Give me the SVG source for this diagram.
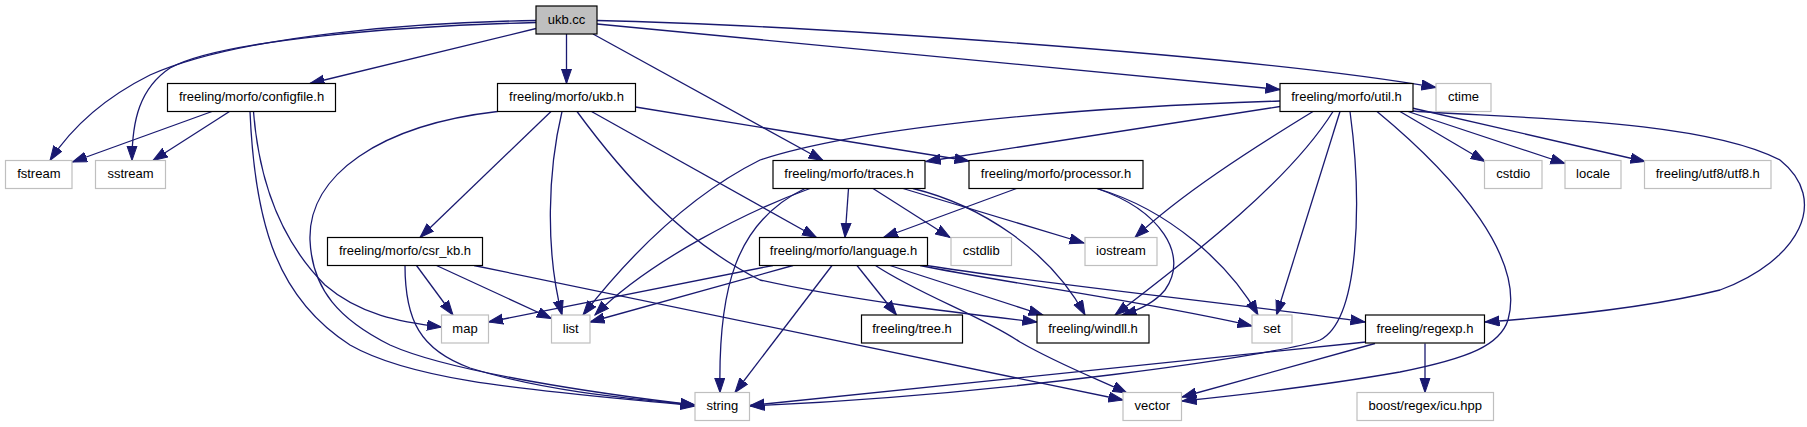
<svg xmlns="http://www.w3.org/2000/svg" width="1807" height="427" viewBox="0 0 1807 427">
<style>
.n rect{fill:#fff;stroke:#000;stroke-width:1.2}
.x rect{fill:#fff;stroke:#bfbfbf;stroke-width:1.2}
.r rect{fill:#bfbfbf;stroke:#000;stroke-width:1.2}
text{font-family:"Liberation Sans",Arial,Helvetica,sans-serif;font-size:13px;text-anchor:middle;fill:#000}
#edges path{fill:none;stroke:#191970;stroke-width:1.3;marker-end:url(#ah)}
</style>
<defs>
<marker id="ah" markerWidth="16" markerHeight="12" refX="14.5" refY="5.5" orient="auto" markerUnits="userSpaceOnUse">
<path d="M0,0.5 L14.5,5.5 L0,10.5 z" fill="#191970" stroke="#191970" stroke-width="1"/>
</marker>
</defs>
<rect width="1807" height="427" fill="#fff"/>
<g id="edges">
<path d="M536,20.5 C420,22 240,35 150,75 C100,100 70,130 50,160.5"/>
<path d="M536,22.5 C400,26 220,40 170,68 C140,88 132,120 132,160.5"/>
<path d="M536,28.5 L310,83.5"/>
<path d="M566.5,34 L566.5,83.5"/>
<path d="M593,34 L823,160.5"/>
<path d="M597,24 L1280,89.5"/>
<path d="M597,20.5 C800,25 1250,55 1436,87.5"/>
<path d="M212,111.5 L72.5,162"/>
<path d="M229.5,111.5 L153,160.5"/>
<path d="M253.5,111.5 C258,170 275,235 325,285 C360,315 400,322 441.5,327"/>
<path d="M250,111.5 C255,230 280,300 350,345 C420,385 560,392 695,406"/>
<path d="M497.5,111.5 C380,125 308,175 310,240 C312,290 340,320 390,345 C450,372 600,394 695,405"/>
<path d="M551,111.5 L420,237.5"/>
<path d="M562,111.5 C548,170 545,250 562,315"/>
<path d="M577,111.5 C620,170 680,240 760,280 C850,300 950,312 1037,322"/>
<path d="M591.5,111.5 L816.5,237.5"/>
<path d="M635.5,107 L969,161"/>
<path d="M810,188.5 C750,210 650,260 595,315"/>
<path d="M805,188.5 C735,222 718,290 720,392.5"/>
<path d="M848.5,188.5 L845,237.5"/>
<path d="M873,188.5 L950,237.5"/>
<path d="M903,188.5 L1084,243"/>
<path d="M913,188.5 C980,205 1050,250 1085,315"/>
<path d="M1016.5,188.5 L883.5,237.5"/>
<path d="M1097,188.5 C1160,210 1190,255 1165,290 C1155,302 1140,310 1122,315"/>
<path d="M1097,188.5 C1170,210 1230,265 1258,315"/>
<path d="M416.5,265.5 L453,315"/>
<path d="M436.5,265.5 L551.5,318.5"/>
<path d="M405,265.5 C405,320 420,350 470,368 C540,390 620,398 695,405"/>
<path d="M474,265.5 L1123,400"/>
<path d="M773,265.5 L488.5,322"/>
<path d="M793,265.5 L590,322"/>
<path d="M832,265.5 L735,392.5"/>
<path d="M857,265.5 L896.5,315"/>
<path d="M890,265.5 L1043,315"/>
<path d="M875.5,265.5 C920,295 980,315 1020,342 C1060,365 1100,380 1127,393"/>
<path d="M920,265.5 C1000,282 1150,302 1252,326"/>
<path d="M926.5,265.5 C1050,285 1250,305 1365,322"/>
<path d="M1280,101 C1050,108 850,130 760,160 C690,195 630,255 583,315"/>
<path d="M1280,106.5 L926,161.5"/>
<path d="M1313,111.5 C1250,150 1180,195 1135,237.5"/>
<path d="M1333,111.5 C1290,180 1200,250 1115,315"/>
<path d="M1340,111.5 L1276.5,315"/>
<path d="M1350,111.5 C1362,200 1360,320 1320,340 C1280,355 1000,395 750,406"/>
<path d="M1377,111.5 C1460,180 1525,260 1508,320 C1500,345 1470,358 1400,372 C1320,386 1240,395 1182,401"/>
<path d="M1400,111.5 L1485,161.5"/>
<path d="M1408,111.5 L1565,163.5"/>
<path d="M1412,108 L1645,161.5"/>
<path d="M1413,111 C1500,118 1700,118 1780,160 C1830,200 1800,260 1720,290 C1640,310 1540,318 1485,322"/>
<path d="M1366,342 L750,405.5"/>
<path d="M1375,343.5 L1182,397"/>
<path d="M1425,343.5 L1425,392.5"/>
</g>
<g id="node-ukb_cc" class="r"><rect x="536" y="6" width="61" height="28"/><text x="566.5" y="23.8">ukb.cc</text></g>
<g id="node-configfile" class="n"><rect x="167.5" y="83.5" width="168" height="28"/><text x="251.5" y="101.3">freeling/morfo/configfile.h</text></g>
<g id="node-ukb_h" class="n"><rect x="497.5" y="83.5" width="138" height="28"/><text x="566.5" y="101.3">freeling/morfo/ukb.h</text></g>
<g id="node-util" class="n"><rect x="1280" y="83.5" width="133" height="28"/><text x="1346.5" y="101.3">freeling/morfo/util.h</text></g>
<g id="node-ctime" class="x"><rect x="1436" y="83.5" width="55" height="28"/><text x="1463.5" y="101.3">ctime</text></g>
<g id="node-fstream" class="x"><rect x="5.5" y="160.5" width="66.5" height="28"/><text x="38.8" y="178.3">fstream</text></g>
<g id="node-sstream" class="x"><rect x="95.5" y="160.5" width="70" height="28"/><text x="130.5" y="178.3">sstream</text></g>
<g id="node-traces" class="n"><rect x="773" y="160.5" width="152" height="28"/><text x="849" y="178.3">freeling/morfo/traces.h</text></g>
<g id="node-processor" class="n"><rect x="969" y="160.5" width="174" height="28"/><text x="1056" y="178.3">freeling/morfo/processor.h</text></g>
<g id="node-cstdio" class="x"><rect x="1484.5" y="160.5" width="57.5" height="28"/><text x="1513.3" y="178.3">cstdio</text></g>
<g id="node-locale" class="x"><rect x="1565" y="160.5" width="56" height="28"/><text x="1593" y="178.3">locale</text></g>
<g id="node-utf8" class="x"><rect x="1644.5" y="160.5" width="126.5" height="28"/><text x="1707.8" y="178.3">freeling/utf8/utf8.h</text></g>
<g id="node-csr_kb" class="n"><rect x="327.5" y="237.5" width="155" height="28"/><text x="405" y="255.3">freeling/morfo/csr_kb.h</text></g>
<g id="node-language" class="n"><rect x="759.5" y="237.5" width="168" height="28"/><text x="843.5" y="255.3">freeling/morfo/language.h</text></g>
<g id="node-cstdlib" class="x"><rect x="951" y="237.5" width="60.5" height="28"/><text x="981.3" y="255.3">cstdlib</text></g>
<g id="node-iostream" class="x"><rect x="1085" y="237.5" width="72" height="28"/><text x="1121" y="255.3">iostream</text></g>
<g id="node-map" class="x"><rect x="441.5" y="315" width="47" height="28"/><text x="465" y="332.8">map</text></g>
<g id="node-list" class="x"><rect x="551.5" y="315" width="38.5" height="28"/><text x="570.8" y="332.8">list</text></g>
<g id="node-tree" class="n"><rect x="861.5" y="315" width="101" height="28"/><text x="912" y="332.8">freeling/tree.h</text></g>
<g id="node-windll" class="n"><rect x="1037" y="315" width="112" height="28"/><text x="1093" y="332.8">freeling/windll.h</text></g>
<g id="node-set" class="x"><rect x="1252" y="315" width="40" height="28"/><text x="1272" y="332.8">set</text></g>
<g id="node-regexp" class="n"><rect x="1365.5" y="315" width="119" height="28"/><text x="1425" y="332.8">freeling/regexp.h</text></g>
<g id="node-string" class="x"><rect x="695" y="392.5" width="54.5" height="28"/><text x="722.3" y="410.3">string</text></g>
<g id="node-vector" class="x"><rect x="1123" y="392.5" width="58.5" height="28"/><text x="1152.3" y="410.3">vector</text></g>
<g id="node-boost" class="x"><rect x="1357" y="392.5" width="136.5" height="28"/><text x="1425.3" y="410.3">boost/regex/icu.hpp</text></g>
</svg>
